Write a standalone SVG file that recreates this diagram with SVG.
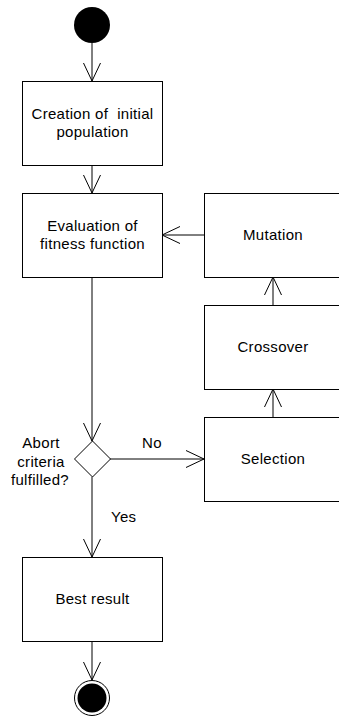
<svg xmlns="http://www.w3.org/2000/svg" width="339" height="717" viewBox="0 0 339 717">
<style>
.box{fill:#fff;stroke:#000;stroke-width:1}
.lbl{font-family:"Liberation Sans",Arial,sans-serif;font-size:15px;letter-spacing:0.3px;fill:#000;text-anchor:middle}
.lbl-s{font-family:"Liberation Sans",Arial,sans-serif;font-size:15px;letter-spacing:0.3px;fill:#000;text-anchor:start}
.conn{stroke:#000;stroke-width:1;fill:none;marker-end:url(#arr)}
</style>
<defs>
<marker id="arr" markerUnits="userSpaceOnUse" markerWidth="20" markerHeight="20" refX="18" refY="9" orient="auto" overflow="visible">
<path d="M0,0.5 L18,9 L0,17.5" fill="none" stroke="#000" stroke-width="1"/>
</marker>
</defs>
<rect width="339" height="717" fill="#fff"/>
<g id="connectors">
<line class="conn" x1="92" y1="43" x2="92" y2="81"/>
<line class="conn" x1="92" y1="165" x2="92" y2="193"/>
<line class="conn" x1="92" y1="277" x2="92" y2="441"/>
<line class="conn" x1="110" y1="459" x2="204" y2="459"/>
<line class="conn" x1="273" y1="417" x2="273" y2="389"/>
<line class="conn" x1="273" y1="305" x2="273" y2="277"/>
<line class="conn" x1="204" y1="235" x2="162" y2="235"/>
<line class="conn" x1="92" y1="477" x2="92" y2="557"/>
<line class="conn" x1="92" y1="641" x2="92" y2="680"/>
<text class="lbl-s" x="142" y="448">No</text>
<text class="lbl-s" x="111" y="522">Yes</text>
</g>
<g id="start"><circle cx="92" cy="25" r="18" fill="#000"/></g>
<g id="creation">
<rect class="box" x="22.5" y="81.5" width="140" height="84"/>
<text class="lbl" x="92.5" y="119" xml:space="preserve">Creation of  initial</text>
<text class="lbl" x="92.5" y="137">population</text>
</g>
<g id="evaluation">
<rect class="box" x="22.5" y="193.5" width="140" height="84"/>
<text class="lbl" x="92.5" y="231">Evaluation of</text>
<text class="lbl" x="92.5" y="249">fitness function</text>
</g>
<g id="mutation">
<rect class="box" x="204.5" y="193.5" width="140" height="84"/>
<text class="lbl" x="273" y="240">Mutation</text>
</g>
<g id="crossover">
<rect class="box" x="204.5" y="305.5" width="140" height="84"/>
<text class="lbl" x="273" y="352">Crossover</text>
</g>
<g id="selection">
<rect class="box" x="204.5" y="417.5" width="140" height="84"/>
<text class="lbl" x="273" y="464">Selection</text>
</g>
<g id="decision">
<polygon points="92.5,441 110.5,459 92.5,477 74.5,459" fill="#fff" stroke="#000" stroke-width="1"/>
<text class="lbl" x="41" y="448">Abort</text>
<text class="lbl" x="41" y="467">criteria</text>
<text class="lbl" x="40" y="485">fulfilled?</text>
</g>
<g id="best">
<rect class="box" x="22.5" y="557.5" width="140" height="84"/>
<text class="lbl" x="92.5" y="604">Best result</text>
</g>
<g id="end">
<circle cx="92" cy="698" r="17.5" fill="#fff" stroke="#000" stroke-width="1"/>
<circle cx="92" cy="698" r="14.5" fill="#000"/>
</g>
</svg>
